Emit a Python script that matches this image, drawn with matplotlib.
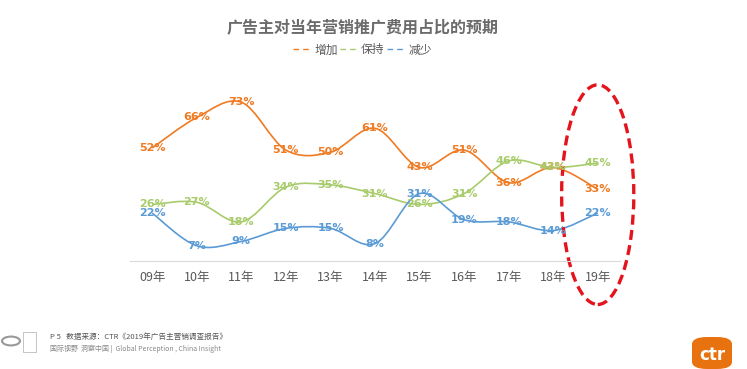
import numpy as np
import matplotlib.pyplot as plt
from matplotlib.path import Path
from matplotlib.patches import PathPatch, Ellipse, FancyBboxPatch, Circle, Rectangle

plt.rcParams['font.family'] = ['Noto Sans CJK SC', 'DejaVu Sans']

# data
years = ['09年', '10年', '11年', '12年', '13年', '14年', '15年', '16年', '17年', '18年', '19年']
increase = [52, 66, 73, 51, 50, 61, 43, 51, 36, 43, 33]
keep = [26, 27, 18, 34, 35, 31, 26, 31, 46, 43, 45]
decrease = [22, 7, 9, 15, 15, 8, 31, 19, 18, 14, 22]
series_names = ['增加', '保持', '减少']

colors = ['#EF7B23', '#A8CB6B', '#5B9BD5']


# smoothed line like Excel's "smooth line" option (Catmull-Rom as bezier)
def smooth_path(xs, ys):
    pts = np.column_stack([xs, ys]).astype(float)
    n = len(pts)
    verts = [pts[0]]
    codes = [Path.MOVETO]
    for i in range(n - 1):
        p0 = pts[i - 1] if i > 0 else pts[i]
        p1 = pts[i]
        p2 = pts[i + 1]
        p3 = pts[i + 2] if i + 2 < n else pts[i + 1]
        c1 = p1 + (p2 - p0) / 6.0
        c2 = p2 - (p3 - p1) / 6.0
        verts += [c1, c2, p2]
        codes += [Path.CURVE4] * 3
    return Path(verts, codes)


fig = plt.figure(figsize=(7.47, 3.69), dpi=100)
ax = fig.add_axes([130 / 747, 1 - 261 / 369, 490 / 747, 174 / 369])
ax.set_xlim(-0.5, 10.5)
ax.set_ylim(0, 80)

x = np.arange(len(years))
for vals, name, col in zip([increase, keep, decrease], series_names, colors):
    ax.add_patch(PathPatch(smooth_path(x, vals), facecolor='none', edgecolor=col, lw=1.2))
    for xi, v in zip(x, vals):
        ax.text(xi, v, f'{v}%', color=col, fontsize=8, fontweight='bold',
                family='DejaVu Sans', ha='center', va='center')
    ax.plot([], [], color=col, lw=1, ls=(0, (4, 3)), label=name)

for s in ['top', 'right', 'left']:
    ax.spines[s].set_visible(False)
ax.spines['bottom'].set_color('#d9d9d9')
ax.set_yticks([])
ax.set_xticks(x)
ax.set_xticklabels(years, fontsize=9, color='#595959')
ax.tick_params(axis='x', length=0, pad=7)

# red dashed ellipse around 2019
ax.add_patch(Ellipse((10, 30.5), 1.62, 101, facecolor='none', edgecolor='#E3141B',
                     lw=2.4, ls=(0, (3, 1.6)), clip_on=False))

fig.text(0.485, 1 - 27 / 369, '广告主对当年营销推广费用占比的预期', ha='center', va='center',
         fontsize=11.5, fontweight='bold', color='#6b6b6b')
fig.legend(loc='center', bbox_to_anchor=(0.485, 1 - 50 / 369), ncol=3, frameon=False,
           fontsize=8.5, handlelength=1.6, handletextpad=0.2, columnspacing=0.2,
           labelcolor='#595959')

# footer
fig.text(50 / 747, 1 - 337 / 369, 'P 5   数据来源：CTR《2019年广告主营销调查报告》',
         fontsize=5.5, color='#555555', va='center')
fig.text(50 / 747, 1 - 349 / 369, '国际视野  洞察中国 |  Global Perception , China Insight',
         fontsize=5, color='#888888', va='center')
fig.patches.append(Circle((11 / 747, 1 - 341 / 369), 0.012, transform=fig.transFigure,
                          facecolor='none', edgecolor='#999999', lw=1.5))
fig.patches.append(Rectangle((23 / 747, 1 - 352 / 369), 13 / 747, 20 / 369,
                             transform=fig.transFigure, facecolor='none',
                             edgecolor='#bbbbbb', lw=0.6))

# ctr logo
fig.patches.append(FancyBboxPatch((692 / 747, 0.0), 40 / 747, 32 / 369,
                                  boxstyle='round,pad=0,rounding_size=0.02',
                                  transform=fig.transFigure, facecolor='#E8720F',
                                  edgecolor='none'))
fig.text(712 / 747, 14 / 369, 'ctr', color='white', fontsize=12, fontweight='bold',
         family='DejaVu Sans', ha='center', va='center')

fig.savefig('out.png', dpi=100)
